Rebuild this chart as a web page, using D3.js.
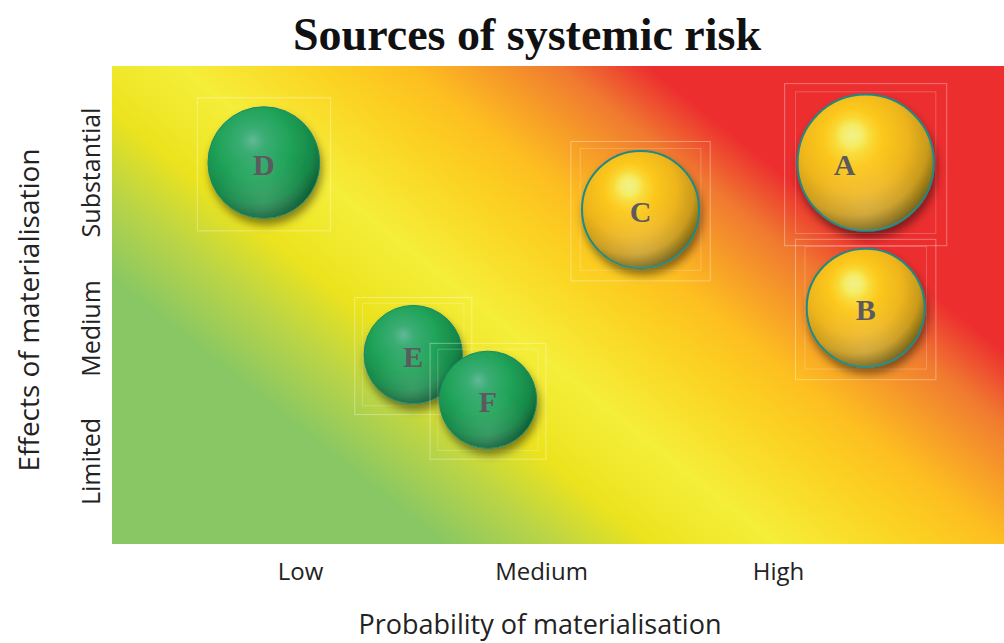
<!DOCTYPE html>
<html>
<head>
<meta charset="utf-8">
<script src="https://cdn.jsdelivr.net/npm/d3@7"></script>
<style>
  body { margin: 0; background: #fff; }
  svg { display: block; }
</style>
</head>
<body>
<div id="chart"></div>
<script>
// Categories on each axis (ordinal levels 1..3)
const probabilityLevels = ['Low', 'Medium', 'High'];
const effectLevels = ['Limited', 'Medium', 'Substantial'];

// Risk sources, in axis units
const riskNames = ['A', 'B', 'C', 'D', 'E', 'F'];
const riskProbability = [3.37, 3.37, 2.42, 0.85, 1.47, 1.78];
const riskEffect = [3.06, 2.13, 2.76, 3.06, 1.80, 1.46];
const riskWeight = [4.6, 3.45, 3.4, 3.1, 2.4, 2.35];
const riskClass = ['high', 'high', 'high', 'low', 'low', 'low'];

const width = 1004, height = 643;
const plot = { left: 112, right: 1004, top: 66, bottom: 544 };

const svg = d3.select('#chart')
    .append('svg')
    .attr('width', width)
    .attr('height', height);

const defs = svg.append('defs');

// Background heat gradient, green bottom-left to red top-right
const bg = defs.append('linearGradient')
    .attr('id', 'heat')
    .attr('gradientUnits', 'userSpaceOnUse')
    .attr('x1', 112).attr('y1', 544)
    .attr('x2', 694).attr('y2', -183);
[
    [0.222, '#88c764'],
    [0.295, '#b9d447'],
    [0.363, '#ece31e'],
    [0.446, '#f5ee3a'],
    [0.532, '#fbd523'],
    [0.6, '#fdbe20'],
    [0.7, '#f07a30'],
    [0.76, '#ec2e2f']
].forEach(([o, c]) => bg.append('stop').attr('offset', o).attr('stop-color', c));

// Bubble shading
const shades = {
    high: [[0, '#f2ee6a'], [0.12, '#f8e448'], [0.3, '#fcc81c'], [0.55, '#eeb51a'], [0.75, '#c99a1c'], [0.9, '#7a6414'], [1, '#2e2a10']],
    low: [[0, '#62b896'], [0.15, '#3aad74'], [0.45, '#20a358'], [0.72, '#178a4a'], [0.9, '#0e5e34'], [1, '#08341c']]
};
Object.entries(shades).forEach(([k, stops]) => {
    const g = defs.append('radialGradient')
        .attr('id', 'ball-' + k)
        .attr('cx', 0.42).attr('cy', 0.36).attr('r', 0.72)
        .attr('fx', 0.4).attr('fy', 0.3);
    stops.forEach(([o, c]) => g.append('stop').attr('offset', o).attr('stop-color', c));
});

// Specular glint for the yellow balls
const glint = defs.append('radialGradient').attr('id', 'glint');
glint.append('stop').attr('offset', 0).attr('stop-color', '#f2f18a').attr('stop-opacity', 1);
glint.append('stop').attr('offset', 0.55).attr('stop-color', '#f4ee70').attr('stop-opacity', 0.8);
glint.append('stop').attr('offset', 1).attr('stop-color', '#f6e860').attr('stop-opacity', 0);

// Lower rim reflection
const rim = defs.append('radialGradient').attr('id', 'rim')
    .attr('cx', 0.5).attr('cy', 0.85).attr('r', 0.45);
rim.append('stop').attr('offset', 0).attr('stop-color', '#ffffff').attr('stop-opacity', 0.15);
rim.append('stop').attr('offset', 1).attr('stop-color', '#ffffff').attr('stop-opacity', 0);

const shadow = defs.append('filter').attr('id', 'shadow')
    .attr('x', '-30%').attr('y', '-30%').attr('width', '160%').attr('height', '160%');
shadow.append('feDropShadow')
    .attr('dx', 2).attr('dy', 6)
    .attr('stdDeviation', 4)
    .attr('flood-color', '#000')
    .attr('flood-opacity', 0.45);

// Scales
const x = d3.scaleLinear().domain([1, 2, 3]).range([300, 541, 778]);
const y = d3.scaleLinear().domain([1, 2, 3]).range([461, 328, 172]);
const r = d3.scaleSqrt().domain([0, 5]).range([0, 71]);

// Background
svg.append('rect')
    .attr('x', plot.left).attr('y', plot.top)
    .attr('width', plot.right - plot.left)
    .attr('height', plot.bottom - plot.top)
    .attr('fill', 'url(#heat)');

// Title
svg.append('text')
    .attr('x', 527).attr('y', 50)
    .attr('text-anchor', 'middle')
    .style('font-family', '"Liberation Serif", "DejaVu Serif", serif')
    .style('font-weight', 'bold')
    .style('font-size', '46px')
    .style('fill', '#111')
    .text('Sources of systemic risk');

// Axes
const xAxis = svg.append('g')
    .attr('transform', `translate(0,${plot.bottom})`)
    .call(d3.axisBottom(x)
        .tickValues([1, 2, 3])
        .tickFormat((d, i) => probabilityLevels[i])
        .tickSize(0)
        .tickPadding(19));
xAxis.select('.domain').remove();
xAxis.selectAll('text')
    .style('font-family', '"Open Sans", sans-serif')
    .style('font-size', '24px')
    .style('fill', '#222');

const yAxis = svg.append('g')
    .attr('transform', `translate(${plot.left},0)`)
    .call(d3.axisLeft(y)
        .tickValues([1, 2, 3])
        .tickFormat((d, i) => effectLevels[i])
        .tickSize(0));
yAxis.select('.domain').remove();
yAxis.selectAll('text')
    .attr('x', 0).attr('dy', 0)
    .attr('transform', 'translate(-12,0) rotate(-90)')
    .attr('text-anchor', 'middle')
    .style('font-family', '"Open Sans", sans-serif')
    .style('font-size', '25px')
    .style('fill', '#222');

// Axis titles
svg.append('text')
    .attr('x', 540).attr('y', 634)
    .attr('text-anchor', 'middle')
    .style('font-family', '"Open Sans", sans-serif')
    .style('font-size', '27px')
    .style('fill', '#222')
    .text('Probability of materialisation');

svg.append('text')
    .attr('transform', 'translate(39,310) rotate(-90)')
    .attr('text-anchor', 'middle')
    .style('font-family', '"Open Sans", sans-serif')
    .style('font-size', '28px')
    .style('fill', '#222')
    .text('Effects of materialisation');

// Bubbles
const risks = riskNames.map((name, i) => ({
    name,
    p: riskProbability[i],
    e: riskEffect[i],
    w: riskWeight[i],
    cls: riskClass[i]
}));

const labelShift = { A: -21 };

const node = svg.append('g')
    .selectAll('g')
    .data(risks)
    .join('g')
    .attr('transform', d => `translate(${x(d.p)},${y(d.e)})`);

// faint frames around each bubble
node.append('rect')
    .attr('x', d => -r(d.w) * 1.19).attr('y', d => -r(d.w) * 1.16)
    .attr('width', d => r(d.w) * 2.38).attr('height', d => r(d.w) * 2.38)
    .attr('fill', 'none')
    .attr('stroke', 'rgba(255,255,255,0.35)')
    .attr('stroke-width', 1);
node.filter(d => d.name !== 'D').append('rect')
    .attr('x', d => -r(d.w) * 1.03).attr('y', d => -r(d.w) * 1.04)
    .attr('width', d => r(d.w) * 2.06).attr('height', d => r(d.w) * 2.08)
    .attr('fill', 'none')
    .attr('stroke', 'rgba(255,255,255,0.22)')
    .attr('stroke-width', 1);

node.append('circle')
    .attr('r', d => r(d.w))
    .attr('fill', d => `url(#ball-${d.cls})`)
    .attr('stroke', d => d.cls === 'high' ? '#1f8a86' : '#1a8a6e')
    .attr('stroke-width', d => d.cls === 'high' ? 2 : 1)
    .attr('filter', 'url(#shadow)');

node.append('circle')
    .attr('r', d => r(d.w))
    .attr('fill', 'url(#rim)');

node.filter(d => d.cls === 'high').append('circle')
    .attr('cx', d => -r(d.w) * 0.2)
    .attr('cy', d => -r(d.w) * 0.4)
    .attr('r', d => r(d.w) * 0.26)
    .attr('fill', 'url(#glint)');

node.append('text')
    .attr('x', d => labelShift[d.name] || 0)
    .attr('y', 2)
    .attr('text-anchor', 'middle')
    .attr('dominant-baseline', 'central')
    .style('font-family', '"Liberation Serif", "DejaVu Serif", serif')
    .style('font-weight', 'bold')
    .style('font-size', '30px')
    .style('fill', '#5c5a5e')
    .text(d => d.name);
</script>
</body>
</html>
